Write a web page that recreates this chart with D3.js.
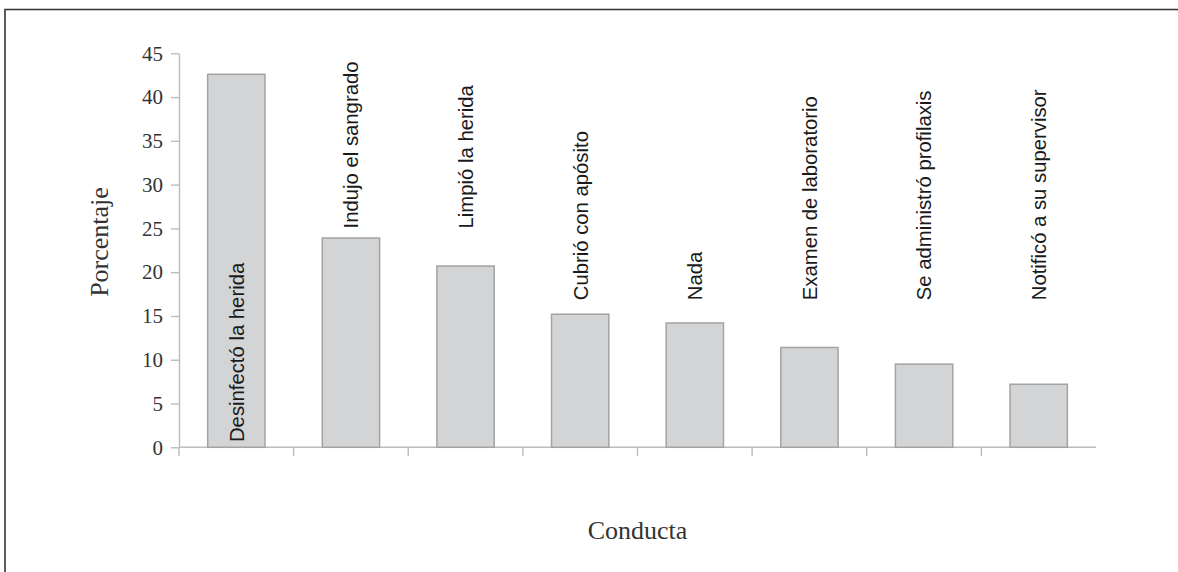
<!DOCTYPE html>
<html>
<head>
<meta charset="utf-8">
<script src="https://cdn.jsdelivr.net/npm/d3@7"></script>
<style>
  html, body { margin: 0; padding: 0; background: #fff; }
  svg { display: block; }
</style>
</head>
<body>
<svg id="chart" width="1178" height="572"></svg>
<script>
// ---- Data ----
const categories = [
  "Desinfectó la herida",
  "Indujo el sangrado",
  "Limpió la herida",
  "Cubrió con apósito",
  "Nada",
  "Examen de laboratorio",
  "Se administró profilaxis",
  "Notificó a su supervisor"
];
const values = [42.6, 23.9, 20.7, 15.2, 14.2, 11.4, 9.5, 7.2];
const yTicks = [0, 5, 10, 15, 20, 25, 30, 35, 40, 45];
const yTitle = "Porcentaje";
const xTitle = "Conducta";

// ---- Layout ----
const W = 1178, H = 572;
const plot = { left: 179, right: 1096, top: 53.3, bottom: 447.3 };
// where each rotated label starts, in value units (first one sits inside its bar)
const labelStart = [0.6, 25, 25, 16.8, 16.8, 16.8, 16.8, 16.8];

const svg = d3.select("#chart");

// frame
svg.append("path")
  .attr("d", `M5,${H} L5,9.5 L${W},9.5`)
  .attr("fill", "none")
  .attr("stroke", "#333")
  .attr("stroke-width", 1.6);

const x = d3.scaleBand()
  .domain(categories)
  .range([plot.left, plot.right])
  .paddingInner(0.5)
  .paddingOuter(0.25);

const y = d3.scaleLinear()
  .domain([0, 45])
  .range([plot.bottom, plot.top]);

// y axis
const yAxis = svg.append("g")
  .attr("transform", `translate(${plot.left},0)`)
  .call(d3.axisLeft(y).tickValues(yTicks).tickSize(8).tickPadding(8).tickSizeOuter(0));
yAxis.select(".domain").attr("stroke", "#bcbcbc").attr("stroke-width", 1.4);
yAxis.selectAll(".tick line").attr("stroke", "#bcbcbc").attr("stroke-width", 1.4);
yAxis.selectAll(".tick text")
  .attr("fill", "#333")
  .style("font-family", "'Liberation Serif', 'Times New Roman', serif")
  .style("font-size", "21px");

// x axis line and category boundary ticks
const xAxisG = svg.append("g");
xAxisG.append("line")
  .attr("x1", plot.left).attr("x2", plot.right)
  .attr("y1", y(0)).attr("y2", y(0))
  .attr("stroke", "#bcbcbc").attr("stroke-width", 1.4);
xAxisG.selectAll("line.bt")
  .data(categories)
  .join("line")
  .attr("class", "bt")
  .attr("x1", d => x(d) - x.step() * x.paddingOuter())
  .attr("x2", d => x(d) - x.step() * x.paddingOuter())
  .attr("y1", y(0)).attr("y2", y(0) + 9)
  .attr("stroke", "#bcbcbc").attr("stroke-width", 1.4);

// bars
svg.append("g").selectAll("rect")
  .data(values)
  .join("rect")
  .attr("x", (d, i) => x(categories[i]))
  .attr("y", d => y(d))
  .attr("width", x.bandwidth())
  .attr("height", d => y(0) - y(d))
  .attr("fill", "#d3d4d6")
  .attr("stroke", "#a3a3a3")
  .attr("stroke-width", 1.5);

// rotated category labels
svg.append("g").selectAll("text")
  .data(categories)
  .join("text")
  .attr("transform", (d, i) => `translate(${x(d) + x.bandwidth() / 2},${y(labelStart[i])}) rotate(-90)`)
  .attr("dy", "0.36em")
  .attr("text-anchor", "start")
  .attr("fill", "#1a1a1a")
  .style("font-family", "'Liberation Sans', Arial, sans-serif")
  .style("font-size", "20.3px")
  .text(d => d);

// axis titles
svg.append("text")
  .attr("transform", `translate(108,242) rotate(-90)`)
  .attr("text-anchor", "middle")
  .attr("fill", "#333")
  .style("font-family", "'Liberation Serif', 'Times New Roman', serif")
  .style("font-size", "26px")
  .text(yTitle);

svg.append("text")
  .attr("x", (plot.left + plot.right) / 2)
  .attr("y", 539)
  .attr("text-anchor", "middle")
  .attr("fill", "#333")
  .style("font-family", "'Liberation Serif', 'Times New Roman', serif")
  .style("font-size", "26px")
  .text(xTitle);
</script>
</body>
</html>
